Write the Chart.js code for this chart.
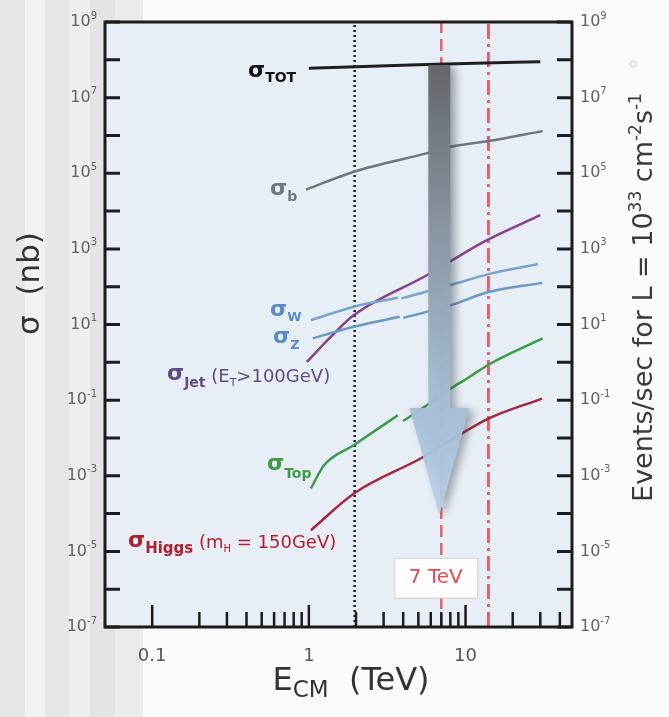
<!DOCTYPE html>
<html>
<head>
<meta charset="utf-8">
<title>Cross sections vs E_CM</title>
<script src="https://cdn.jsdelivr.net/npm/chart.js@4.4.0/dist/chart.umd.min.js"></script>
<style>
    html, body { margin: 0; padding: 0; }
    body {
        width: 669px;
        height: 717px;
        overflow: hidden;
        background: linear-gradient(to right,
            #e6e6e6 0 25px, #f2f2f2 25px 45px, #e7e7e7 45px 70px,
            #efefef 70px 90px, #e4e4e4 90px 115px, #ebebeb 115px 143px,
            #fbfbfb 143px);
    }
    canvas { display: block; }
</style>
</head>
<body>
<canvas id="xsecChart" width="669" height="717"></canvas>
<script>
// ---- values (E in TeV, sigma in nb) ----
const energyTot = [1.0, 2.0, 5.0, 10, 30];
const sigmaTot = [6.0e7, 6.6e7, 7.4e7, 8.0e7, 8.9e7];

const energyB = [0.96, 1.94, 5.7, 8.0, 14, 31];
const sigmaB = [3.7e4, 1.1e5, 3.4e5, 5.0e5, 7.1e5, 1.3e6];

const energyW = [1.03, 1.94, 3.7, 3.8, 3.9, 8.0, 14, 29];
const sigmaW = [13, 29.5, 51, null, 49, 110, 215, 400];

const energyZ = [1.06, 1.94, 3.8, 3.9, 4.0, 8.0, 14, 30.8];
const sigmaZ = [4.3, 8.7, 16, null, 15, 32, 72, 126];

const energyJet = [0.97, 1.38, 1.94, 5.7, 8.2, 13.7, 30];
const sigmaJet = [1.02, 4.7, 17.8, 204, 500, 1700, 7760];

const energyTop = [1.03, 1.25, 1.94, 3.7, 3.85, 4.0, 5.7, 8.0, 10.3, 13.9, 31];
const sigmaTop = [4.6e-4, 1.9e-3, 6.5e-3, 0.040, null, 0.028, 0.074, 0.20, 0.38, 0.85, 4.3];

const energyHiggs = [1.03, 1.94, 5.2, 13.9, 30.8];
const sigmaHiggs = [3.6e-5, 3.4e-4, 2.9e-3, 3.2e-2, 0.11];

// collider energies
const tevatronE = 1.96;
const lhc7E = 7;
const lhc14E = 14;

// arrow from sigma_TOT down to the 7 TeV region
const arrowE = 6.8;
const arrowTopSigma = 7.2e7;
const arrowHeadSigma = 0.062;
const arrowTipSigma = 9.1e-5;
const boxSigma = 2.0e-6;

// ticks
const xTickValues = [0.1, 0.2, 0.3, 0.4, 0.5, 0.6, 0.7, 0.8, 0.9,
    1, 2, 3, 4, 5, 6, 7, 8, 9, 10, 20, 30, 40];
const xLabelValues = [0.1, 1, 10];
const xLabelTexts = ["0.1", "1", "10"];
const yTickExponents = [-7, -6, -5, -4, -3, -2, -1, 0, 1, 2, 3, 4, 5, 6, 7, 8, 9];
const yLabelExponents = [-7, -5, -3, -1, 1, 3, 5, 7, 9];

const fontFamily = '"DejaVu Sans", "Liberation Sans", sans-serif';

function pts(xs, ys) {
    return xs.map((x, i) => ({ x: x, y: ys[i] }));
}

function vline(e) {
    return [{ x: e, y: 1e-7 }, { x: e, y: 1e9 }];
}

// draws text made of pieces: [text, size, weight, dy]
function drawRich(ctx, x, y, parts, align) {
    let total = 0;
    const widths = parts.map(p => {
        ctx.font = `${p[2] || "normal"} ${p[1]}px ${fontFamily}`;
        const w = ctx.measureText(p[0]).width;
        total += w;
        return w;
    });
    let cx = x;
    if (align === "center") cx = x - total / 2;
    if (align === "right") cx = x - total;
    ctx.textAlign = "left";
    parts.forEach((p, i) => {
        ctx.font = `${p[2] || "normal"} ${p[1]}px ${fontFamily}`;
        ctx.fillText(p[0], cx, y + (p[3] || 0));
        cx += widths[i];
    });
}

// in-plot curve labels, pixel anchors (left, baseline)
const curveLabels = [
    { x: 248, y: 77, color: "#141414", parts: [["σ", 22, "bold"], ["TOT", 14, "bold", 5]] },
    { x: 270, y: 195, color: "#6f777f", parts: [["σ", 22, "bold"], ["b", 14, "bold", 6]] },
    { x: 270, y: 316, color: "#5b8bc6", parts: [["σ", 22, "bold"], ["W", 13, "bold", 5]] },
    { x: 273, y: 343, color: "#5b8bc6", parts: [["σ", 22, "bold"], ["Z", 13, "bold", 6]] },
    { x: 167, y: 380, color: "#5f4c83", parts: [["σ", 22, "bold"], ["Jet", 14, "bold", 7], [" (E", 18, "normal", 2], ["T", 11, "normal", 6], [">100GeV)", 18, "normal", 2]] },
    { x: 267, y: 470, color: "#3d9c46", parts: [["σ", 22, "bold"], ["Top", 14, "bold", 8]] },
    { x: 128, y: 547, color: "#b0202e", parts: [["σ", 22, "bold"], ["Higgs", 15, "bold", 6], [" (m", 18, "normal", 1], ["H", 10, "normal", 5], [" = 150GeV)", 18, "normal", 1]] }
];

const plotDecor = {
    id: "plotDecor",
    beforeDraw(chart) {
        const { ctx, chartArea: a } = chart;
        ctx.save();
        ctx.fillStyle = "#e8eef6";
        ctx.fillRect(a.left, a.top, a.right - a.left, a.bottom - a.top);
        ctx.restore();
    },
    afterDatasetsDraw(chart) {
        const { ctx, scales } = chart;
        const x = scales.x, y = scales.y;
        const cx = x.getPixelForValue(arrowE);
        const top = y.getPixelForValue(arrowTopSigma);
        const headBase = y.getPixelForValue(arrowHeadSigma);
        const tip = y.getPixelForValue(arrowTipSigma);
        const shaftHalf = 11;
        const headHalf = 30;

        ctx.save();
        ctx.shadowColor = "rgba(50, 55, 60, 0.45)";
        ctx.shadowBlur = 9;
        ctx.shadowOffsetX = 5;
        ctx.shadowOffsetY = 2;
        const g = ctx.createLinearGradient(0, top, 0, tip);
        g.addColorStop(0, "rgba(100, 103, 107, 1)");
        g.addColorStop(0.4, "rgba(140, 153, 166, 1)");
        g.addColorStop(0.72, "rgba(163, 188, 212, 0.95)");
        g.addColorStop(1, "rgba(184, 210, 234, 0.9)");
        ctx.fillStyle = g;
        ctx.beginPath();
        ctx.moveTo(cx - shaftHalf, top);
        ctx.lineTo(cx + shaftHalf, top);
        ctx.lineTo(cx + shaftHalf, headBase);
        ctx.lineTo(cx + headHalf, headBase);
        ctx.lineTo(cx, tip);
        ctx.lineTo(cx - headHalf, headBase);
        ctx.lineTo(cx - shaftHalf, headBase);
        ctx.closePath();
        ctx.fill();
        ctx.restore();
    },
    afterDraw(chart) {
        const { ctx, chartArea: a, scales } = chart;
        const x = scales.x, y = scales.y, y2 = scales.y2;
        ctx.save();

        // frame
        ctx.strokeStyle = "#1c1c1c";
        ctx.lineWidth = 3;
        ctx.strokeRect(a.left, a.top, a.right - a.left, a.bottom - a.top);

        // inward ticks on left / right
        ctx.lineWidth = 3;
        yTickExponents.forEach(e => {
            const py = y.getPixelForValue(Math.pow(10, e));
            ctx.beginPath();
            ctx.moveTo(a.left, py);
            ctx.lineTo(a.left + 15, py);
            ctx.moveTo(a.right, py);
            ctx.lineTo(a.right - 15, py);
            ctx.stroke();
        });

        // inward ticks on bottom
        ctx.lineWidth = 2.5;
        x.ticks.forEach(t => {
            const px = x.getPixelForValue(t.value);
            const len = xLabelValues.includes(t.value) ? 22 : 15;
            ctx.beginPath();
            ctx.moveTo(px, a.bottom);
            ctx.lineTo(px, a.bottom - len);
            ctx.stroke();
        });

        // y tick labels with superscripts
        ctx.fillStyle = "#626262";
        ctx.textBaseline = "middle";
        yLabelExponents.forEach(e => {
            const py = y.getPixelForValue(Math.pow(10, e));
            const parts = [["10", 16], [String(e), 10, "normal", -6]];
            drawRich(ctx, a.left - 8, py, parts, "right");
            const py2 = y2.getPixelForValue(Math.pow(10, e));
            drawRich(ctx, a.right + 8, py2, parts, "left");
        });

        // axis titles
        ctx.fillStyle = "#333";
        ctx.textBaseline = "middle";
        ctx.save();
        ctx.translate(31, (a.top + a.bottom) / 2 - 41);
        ctx.rotate(-Math.PI / 2);
        drawRich(ctx, 0, 0, [["σ  (nb)", 31]], "center");
        ctx.restore();

        ctx.fillStyle = "#3a3a3a";
        ctx.textBaseline = "alphabetic";
        ctx.save();
        ctx.translate(652, (a.top + a.bottom) / 2 - 27);
        ctx.rotate(-Math.PI / 2);
        drawRich(ctx, 0, 0, [
            ["Events/sec for L = 10", 27], ["33", 17, "normal", -11],
            [" cm", 27], ["-2", 17, "normal", -11],
            ["s", 27], ["-1", 17, "normal", -11]
        ], "center");
        ctx.restore();

        ctx.fillStyle = "#333";
        drawRich(ctx, 351, 690, [["E", 32], ["CM", 23, "normal", 7], ["  (TeV)", 32]], "center");

        // curve labels
        curveLabels.forEach(l => {
            ctx.fillStyle = l.color;
            drawRich(ctx, l.x, l.y, l.parts, "left");
        });

        // 7 TeV box
        const bx = x.getPixelForValue(lhc7E);
        const by = y.getPixelForValue(boxSigma);
        ctx.fillStyle = "#fdfdfd";
        ctx.strokeStyle = "#cfcfcf";
        ctx.lineWidth = 1;
        ctx.fillRect(bx - 47, by - 20, 83, 40);
        ctx.strokeRect(bx - 47 + 0.5, by - 20 + 0.5, 83, 40);
        ctx.fillStyle = "#e5484c";
        ctx.textBaseline = "middle";
        drawRich(ctx, bx - 5.5, by, [["7 TeV", 20]], "center");

        // little ring at the top right
        ctx.strokeStyle = "#c8c8c8";
        ctx.lineWidth = 1;
        ctx.beginPath();
        ctx.arc(633, 64, 3, 0, Math.PI * 2);
        ctx.stroke();

        ctx.restore();
    }
};

const ctx = document.getElementById("xsecChart").getContext("2d");

const curve = (data, color, width) => ({
    data: data,
    borderColor: color,
    borderWidth: width,
    showLine: true,
    pointRadius: 0,
    cubicInterpolationMode: "monotone",
    spanGaps: false,
    fill: false
});

const marker = (e, color, dash) => ({
    data: vline(e),
    borderColor: color,
    borderWidth: dash.length > 2 ? 3 : 2.5,
    borderDash: dash,
    showLine: true,
    pointRadius: 0,
    tension: 0,
    fill: false
});

const xsecChart = new Chart(ctx, {
    type: "scatter",
    data: {
        datasets: [
            curve(pts(energyTot, sigmaTot), "#1f1f1f", 3),
            curve(pts(energyB, sigmaB), "#6d767e", 2.5),
            curve(pts(energyW, sigmaW), "#7ba3c9", 2.5),
            curve(pts(energyZ, sigmaZ), "#6b98c4", 2.5),
            curve(pts(energyJet, sigmaJet), "#84408e", 2.5),
            curve(pts(energyTop, sigmaTop), "#3c9a48", 2.5),
            curve(pts(energyHiggs, sigmaHiggs), "#a3283c", 2.5),
            marker(tevatronE, "#1c1c2a", [2, 3]),
            marker(lhc7E, "#e8606a", [12, 6]),
            marker(lhc14E, "#e8606a", [15, 5, 3, 5])
        ]
    },
    options: {
        responsive: false,
        animation: false,
        devicePixelRatio: 1,
        layout: { padding: { top: 22 } },
        plugins: {
            legend: { display: false },
            tooltip: { enabled: false }
        },
        scales: {
            x: {
                type: "logarithmic",
                position: "bottom",
                min: 0.05,
                max: 47.8,
                afterBuildTicks: s => { s.ticks = xTickValues.map(v => ({ value: v })); },
                afterFit: s => { s.height = 90; },
                grid: { display: false },
                border: { display: false },
                ticks: {
                    autoSkip: false,
                    maxRotation: 0,
                    padding: 11,
                    color: "#555",
                    font: { family: fontFamily, size: 18 },
                    callback: v => {
                        const i = xLabelValues.indexOf(v);
                        return i >= 0 ? xLabelTexts[i] : "";
                    }
                }
            },
            y: {
                type: "logarithmic",
                position: "left",
                min: 1e-7,
                max: 1e9,
                afterBuildTicks: s => { s.ticks = yTickExponents.map(e => ({ value: Math.pow(10, e) })); },
                afterFit: s => { s.width = 105; },
                grid: { display: false },
                border: { display: false },
                ticks: { display: false }
            },
            y2: {
                type: "logarithmic",
                position: "right",
                min: 1e-7,
                max: 1e9,
                afterBuildTicks: s => { s.ticks = yTickExponents.map(e => ({ value: Math.pow(10, e) })); },
                afterFit: s => { s.width = 97; },
                grid: { display: false },
                border: { display: false },
                ticks: { display: false }
            }
        }
    },
    plugins: [plotDecor]
});
</script>
</body>
</html>
